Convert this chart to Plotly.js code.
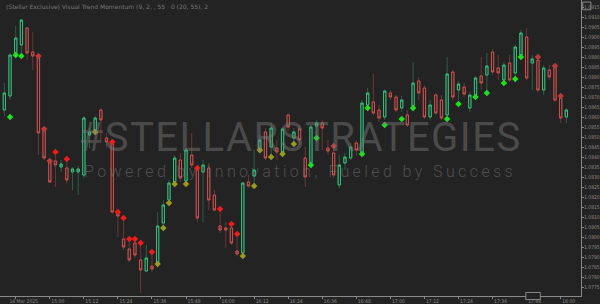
<!DOCTYPE html>
<html>
<head>
<meta charset="utf-8">
<script src="https://cdn.plot.ly/plotly-3.0.1.min.js"></script>
<style>
html,body{margin:0;padding:0;background:#232323;}
#chart{width:600px;height:304px;}
</style>
</head>
<body>
<div id="chart"></div>
<script>
// candle index (one per bar)
const barIndex = [0,1,2,3,4,5,6,7,8,9,10,11,12,13,14,15,16,17,18,19,20,21,22,23,24,25,26,27,28,29,30,31,32,33,34,35,36,37,38,39,40,41,42,43,44,45,46,47,48,49,50,51,52,53,54,55,56,57,58,59,60,61,62,63,64,65,66,67,68,69,70,71,72,73,74,75,76,77,78,79,80,81,82,83,84,85,86,87,88,89,90,91,92,93,94,95,96,97,98,99];

const openP = [1.08635,1.08705,1.08910,1.08960,1.09045,1.08925,1.08900,1.08540,1.08380,1.08380,
1.08350,1.08345,1.08325,1.08325,1.08310,1.08510,1.08535,1.08635,1.08495,1.08470,
1.08115,1.07990,1.07940,1.07970,1.07885,1.07830,1.07855,1.07870,1.08070,1.08185,
1.08275,1.08385,1.08280,1.08410,1.08345,1.08325,1.08345,1.08210,1.08055,1.08045,
1.08045,1.07930,1.07920,1.08275,1.08305,1.08425,1.08525,1.08450,1.08445,1.08415,
1.08610,1.08495,1.08540,1.08395,1.08370,1.08555,1.08570,1.08445,1.08420,1.08260,
1.08370,1.08395,1.08470,1.08420,1.08660,1.08675,1.08635,1.08600,1.08720,1.08700,
1.08645,1.08610,1.08655,1.08780,1.08745,1.08600,1.08710,1.08685,1.08610,1.08825,
1.08735,1.08750,1.08645,1.08710,1.08805,1.08810,1.08925,1.08845,1.08785,1.08870,
1.08820,1.08910,1.09000,1.08870,1.08885,1.08735,1.08835,1.08845,1.08695,1.08600];

const highP = [1.08770,1.08920,1.09055,1.09090,1.09050,1.09025,1.08910,1.08550,1.08385,1.08410,
1.08385,1.08385,1.08350,1.08355,1.08605,1.08545,1.08605,1.08645,1.08520,1.08475,
1.08125,1.08095,1.07985,1.07990,1.07960,1.07960,1.07910,1.08125,1.08185,1.08285,
1.08410,1.08420,1.08445,1.08520,1.08360,1.08385,1.08370,1.08235,1.08130,1.08075,
1.08060,1.08005,1.08275,1.08310,1.08435,1.08510,1.08545,1.08575,1.08485,1.08550,
1.08620,1.08545,1.08560,1.08450,1.08560,1.08585,1.08585,1.08485,1.08445,1.08410,
1.08420,1.08470,1.08485,1.08685,1.08745,1.08815,1.08660,1.08735,1.08735,1.08710,
1.08705,1.08635,1.08875,1.08800,1.08760,1.08685,1.08720,1.08710,1.08900,1.08835,
1.08780,1.08770,1.08725,1.08805,1.08900,1.08920,1.08940,1.08910,1.08875,1.08910,
1.08960,1.09035,1.09045,1.08910,1.08895,1.08860,1.08860,1.08855,1.08700,1.08645];

const lowP = [1.08605,1.08685,1.08900,1.08905,1.08885,1.08835,1.08410,1.08385,1.08270,1.08250,
1.08325,1.08270,1.08235,1.08210,1.08295,1.08445,1.08510,1.08485,1.08445,1.08115,
1.08000,1.07935,1.07875,1.07895,1.07720,1.07825,1.07825,1.07860,1.08055,1.08170,
1.08260,1.08275,1.08265,1.08345,1.08075,1.08075,1.08135,1.08130,1.08020,1.07945,
1.07960,1.07905,1.07905,1.08245,1.08250,1.08420,1.08385,1.08410,1.08385,1.08405,
1.08530,1.08475,1.08460,1.08250,1.08360,1.08510,1.08435,1.08410,1.08295,1.08245,
1.08335,1.08385,1.08405,1.08410,1.08655,1.08610,1.08575,1.08585,1.08685,1.08625,
1.08625,1.08550,1.08650,1.08685,1.08590,1.08585,1.08610,1.08585,1.08600,1.08685,
1.08685,1.08700,1.08625,1.08700,1.08735,1.08725,1.08810,1.08785,1.08775,1.08775,
1.08805,1.08905,1.08785,1.08735,1.08725,1.08710,1.08785,1.08675,1.08570,1.08570];

const closeP = [1.08720,1.08910,1.08995,1.09085,1.08920,1.08905,1.08520,1.08395,1.08275,1.08360,
1.08365,1.08285,1.08340,1.08340,1.08595,1.08525,1.08595,1.08585,1.08475,1.08125,
1.08105,1.07950,1.07885,1.07910,1.07835,1.07895,1.07840,1.08055,1.08160,1.08270,
1.08395,1.08295,1.08435,1.08360,1.08095,1.08360,1.08185,1.08135,1.08035,1.08035,
1.07970,1.07915,1.08270,1.08255,1.08335,1.08485,1.08395,1.08545,1.08425,1.08540,
1.08550,1.08525,1.08485,1.08300,1.08550,1.08570,1.08545,1.08430,1.08310,1.08360,
1.08400,1.08450,1.08435,1.08670,1.08720,1.08620,1.08595,1.08730,1.08700,1.08635,
1.08685,1.08560,1.08770,1.08720,1.08600,1.08660,1.08620,1.08595,1.08815,1.08700,
1.08765,1.08715,1.08710,1.08795,1.08770,1.08855,1.08825,1.08820,1.08860,1.08785,
1.08950,1.09020,1.08795,1.08890,1.08735,1.08845,1.08800,1.08685,1.08595,1.08635];

// signal markers
const bullIdx = [1,2,3,54,55,63,64,67,70,72,78,80,83,85,88,90,91];
const bullY = [1.08600,1.08910,1.08905,1.08360,1.08495,1.08415,1.08645,1.08560,1.08590,1.08645,1.08590,1.08665,1.08700,1.08720,1.08770,1.08790,1.08900];
const bearIdx = [9,11,19,20,21,22,23,24,26,34,38,40,41];
const bearY = [1.08425,1.08390,1.08475,1.08125,1.08095,1.07990,1.07990,1.07970,1.07925,1.08345,1.08140,1.08065,1.08015];
const weakBearIdx = [6,7,8,58,94,97,98];
const weakBearY = [1.08905,1.08540,1.08380,1.08455,1.08900,1.08855,1.08705];
const neutralIdx = [16,27,28,29,30,32,42,44,45,47,49,51];
const neutralY = [1.08525,1.07865,1.08045,1.08170,1.08265,1.08265,1.07905,1.08255,1.08435,1.08400,1.08415,1.08465];

// time axis labels
const tickIdx = [2,8,14,20,26,32,38,44,50,56,62,68,74,80,86,92,98];
const tickText = ["14 Mar 2025","15:00","15:12","15:24","15:36","15:48","16:00","16:12","16:24","16:36","16:48","17:00","17:12","17:24","17:36","17:48","18:00"];

const bodyHigh = openP.map((o,i)=>Math.max(o,closeP[i]));
const bodyLow = openP.map((o,i)=>Math.min(o,closeP[i]));

const GREEN = '#35c07e', RED = '#c9514e';

const traces = [
  {type:'candlestick', x:barIndex, open:openP, high:highP, low:lowP, close:closeP,
   increasing:{line:{color:'#2c5e45',width:1}, fillcolor:'rgba(0,0,0,0)'},
   decreasing:{line:{color:'#6e3434',width:1}, fillcolor:'rgba(0,0,0,0)'},
   whiskerwidth:0, hoverinfo:'skip', showlegend:false},
  {type:'candlestick', x:barIndex, open:openP, high:bodyHigh, low:bodyLow, close:closeP,
   increasing:{line:{color:GREEN,width:1}, fillcolor:'rgba(0,0,0,0)'},
   decreasing:{line:{color:RED,width:1}, fillcolor:'rgba(0,0,0,0)'},
   whiskerwidth:0, hoverinfo:'skip', showlegend:false},
  {type:'scatter', mode:'markers', x:bullIdx, y:bullY, marker:{symbol:'diamond', size:5, color:'#1fe01f'}, showlegend:false},
  {type:'scatter', mode:'markers', x:bearIdx, y:bearY, marker:{symbol:'diamond', size:5, color:'#ee1c1c'}, showlegend:false},
  {type:'scatter', mode:'markers', x:weakBearIdx, y:weakBearY, marker:{symbol:'diamond', size:5, color:'#b83a3a'}, showlegend:false},
  {type:'scatter', mode:'markers', x:neutralIdx, y:neutralY, marker:{symbol:'diamond', size:5, color:'#9a9a1e'}, showlegend:false}
];

const layout = {
  width:600, height:304,
  margin:{l:0, r:19, t:0, b:8},
  paper_bgcolor:'#232323', plot_bgcolor:'#232323',
  showlegend:false,
  boxgap:0.42,
  xaxis:{type:'linear', range:[-0.77,101.58], rangeslider:{visible:false},
    tickvals:tickIdx, ticktext:tickText, showgrid:false, zeroline:false,
    showline:true, linecolor:'#8a8a8a', linewidth:1, ticks:'outside', ticklen:2, tickcolor:'#8a8a8a',
    ticklabelshift:8, ticklabelstandoff:-2,
    tickfont:{family:'Liberation Sans Narrow, DejaVu Sans Condensed', size:5, color:'#8a8a8a'}},
  yaxis:{side:'right', range:[1.07705,1.09185], dtick:0.0005, tick0:1.0750, tickformat:'.4f',
    showgrid:false, zeroline:false, showline:true, linecolor:'#8a8a8a', linewidth:1,
    ticks:'outside', ticklen:2, tickcolor:'#8a8a8a', ticklabelstandoff:-1,
    tickfont:{family:'Liberation Sans Narrow, DejaVu Sans Condensed', size:5, color:'#8a8a8a'}},
  annotations:[
    {xref:'paper', yref:'paper', x:0.516, y:0.534, xanchor:'center', yanchor:'middle', showarrow:false,
     text:'#STELLARSTRATEGIES', font:{family:'Roboto', size:40, color:'rgba(125,125,125,0.45)'}},
    {xref:'paper', yref:'paper', x:0.516, y:0.422, xanchor:'center', yanchor:'middle', showarrow:false,
     text:'Powered by Innovation, Fueled by Success', font:{family:'Roboto', size:16, weight:300, color:'rgba(125,125,125,0.5)'}},
    {xref:'paper', yref:'paper', x:0.007, y:0.995, xanchor:'left', yanchor:'top', showarrow:false,
     text:'(Stellar Exclusive) Visual Trend Momentum (9, 2, , 55 · 0 (20, 55), 2', font:{family:'DejaVu Sans', size:6, color:'#777'}}
  ],
  shapes:[
    {type:'rect', xref:'paper', yref:'paper', x0:1.003, x1:1.017, y0:0.967, y1:0.993, line:{color:'#8a8a8a', width:1}},
    {type:'rect', xref:'paper', yref:'paper', x0:0.905, x1:0.930, y0:-0.012, y1:0.012, line:{color:'#8a8a8a', width:1}, fillcolor:'#232323'}
  ]
};

Plotly.newPlot('chart', traces, layout, {staticPlot:true}).then(()=>{
  document.querySelectorAll('.annotation-text').forEach(t=>{
    if (t.textContent.indexOf('Powered')===0) t.style.letterSpacing='3.4px';
    if (t.textContent.indexOf('#STELLAR')===0) t.style.letterSpacing='1.5px';
  });
});
</script>
</body>
</html>
